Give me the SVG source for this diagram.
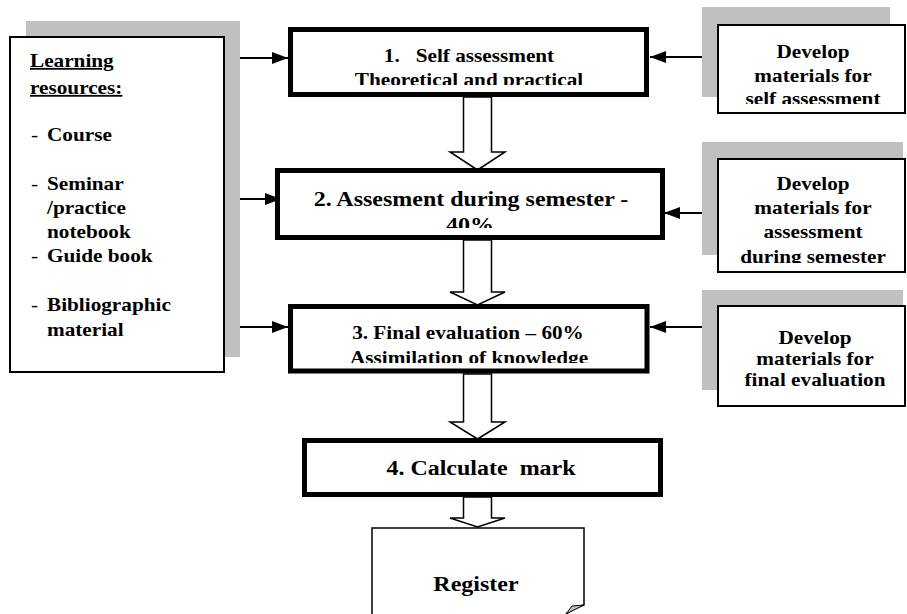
<svg xmlns="http://www.w3.org/2000/svg" width="907" height="614" viewBox="0 0 907 614">
<style>
text{font-family:'Liberation Serif',serif;font-weight:bold;font-size:18px;fill:#000}
.b{font-size:20px}
.n{font-weight:normal}
.sh{fill:#c0c0c0}
.thin{fill:#fff;stroke:#000;stroke-width:2}
.thick{fill:#fff;stroke:#000;stroke-width:5}
.ln{stroke:#000;stroke-width:2;fill:none}
.blk{fill:#fff;stroke:#000;stroke-width:1.5}
</style>
<defs>
<marker id="ah" markerWidth="16" markerHeight="12" refX="16" refY="6" orient="auto" markerUnits="userSpaceOnUse"><path d="M0,0 L16,6 L0,12 Z" fill="#000"/></marker>
<clipPath id="c1"><rect x="293" y="32" width="351" height="53"/></clipPath>
<clipPath id="c2"><rect x="280" y="173" width="380" height="55"/></clipPath>
<clipPath id="c3"><rect x="293" y="309" width="351" height="54"/></clipPath>
<clipPath id="r1"><rect x="719" y="26" width="185" height="78"/></clipPath>
<clipPath id="r2"><rect x="719" y="160" width="185" height="103"/></clipPath>
</defs>

<g id="connectors">
<line class="ln" x1="224" y1="58" x2="288" y2="58" marker-end="url(#ah)"/>
<line class="ln" x1="228" y1="199" x2="281" y2="199" marker-end="url(#ah)"/>
<line class="ln" x1="224" y1="327" x2="288" y2="327" marker-end="url(#ah)"/>
<line class="ln" x1="718" y1="57" x2="650" y2="57" marker-end="url(#ah)"/>
<line class="ln" x1="718" y1="213" x2="664" y2="213" marker-end="url(#ah)"/>
<line class="ln" x1="718" y1="327" x2="650" y2="327" marker-end="url(#ah)"/>
<polygon class="blk" points="463.5,97 491.5,97 491.5,152 505,152 477.5,170 450,152 463.5,152"/>
<polygon class="blk" points="463.5,240 491.5,240 491.5,292 505,292 477.5,305 450,292 463.5,292"/>
<polygon class="blk" points="463.5,374 491.5,374 491.5,422 505,422 477.5,439 450,422 463.5,422"/>
<polygon class="blk" points="463.5,497 491.5,497 491.5,518 505,518 477.5,527 450,518 463.5,518"/>
</g>

<g id="resources">
<rect class="sh" x="26" y="21" width="214" height="336"/>
<rect class="thin" x="10" y="37" width="214" height="335"/>
<text transform="translate(30,67) scale(1.18,1)" text-decoration="underline">Learning</text>
<text transform="translate(30,94) scale(1.18,1)" text-decoration="underline">resources:</text>
<text class="n" transform="translate(31,141) scale(1.18,1)">-</text>
<text transform="translate(47,141) scale(1.18,1)">Course</text>
<text class="n" transform="translate(31,190) scale(1.18,1)">-</text>
<text transform="translate(47,190) scale(1.18,1)">Seminar</text>
<text transform="translate(47,214) scale(1.18,1)">/practice</text>
<text transform="translate(47,238) scale(1.18,1)">notebook</text>
<text class="n" transform="translate(31,262) scale(1.18,1)">-</text>
<text transform="translate(47,262) scale(1.18,1)">Guide book</text>
<text class="n" transform="translate(31,311) scale(1.18,1)">-</text>
<text transform="translate(47,311) scale(1.18,1)">Bibliographic</text>
<text transform="translate(47,336) scale(1.18,1)">material</text>
</g>

<g id="step1">
<rect class="thick" x="290.5" y="29.5" width="356" height="65"/>
<g clip-path="url(#c1)">
<text text-anchor="middle" transform="translate(469,62) scale(1.18,1)">1.&#160;&#160; Self assessment</text>
<text text-anchor="middle" transform="translate(469,86) scale(1.18,1)">Theoretical and practical</text>
</g>
</g>

<g id="step2">
<rect class="thick" x="277.5" y="170.5" width="385" height="67"/>
<g clip-path="url(#c2)">
<text class="b" text-anchor="middle" transform="translate(471,206) scale(1.2,1)">2. Assesment during semester -</text>
<text class="b" text-anchor="middle" transform="translate(470,232) scale(1.2,1)">40%</text>
</g>
</g>

<g id="step3">
<rect class="thick" x="290.5" y="306.5" width="356.5" height="64.5"/>
<g clip-path="url(#c3)">
<text text-anchor="middle" transform="translate(468,339) scale(1.18,1)">3. Final evaluation – 60%</text>
<text text-anchor="middle" transform="translate(469,364) scale(1.18,1)">Assimilation of knowledge</text>
</g>
</g>

<g id="step4">
<rect class="thick" x="304.5" y="440.5" width="356" height="54"/>
<text class="b" text-anchor="middle" transform="translate(481,475) scale(1.2,1)">4. Calculate&#160; mark</text>
</g>

<g id="register">
<path d="M372,614 V528 H584 V605 Q575,607 566,614" fill="#fff" stroke="#000" stroke-width="1.5"/>
<path d="M584,605 L572,606 L566,614 Z" fill="#c0c0c0" stroke="#000" stroke-width="1"/>
<text class="b" text-anchor="middle" transform="translate(476,591) scale(1.2,1)">Register</text>
</g>

<g id="dev1">
<rect class="sh" x="702" y="7" width="188" height="90"/>
<rect class="thin" x="718" y="25" width="187" height="88"/>
<g clip-path="url(#r1)">
<text text-anchor="middle" transform="translate(813,58) scale(1.18,1)">Develop</text>
<text text-anchor="middle" transform="translate(813,82) scale(1.18,1)">materials for</text>
<text text-anchor="middle" transform="translate(813,105) scale(1.18,1)">self assessment</text>
</g>
</g>

<g id="dev2">
<rect class="sh" x="702" y="142" width="201" height="113"/>
<rect class="thin" x="718" y="159" width="187" height="113"/>
<g clip-path="url(#r2)">
<text text-anchor="middle" transform="translate(813,190) scale(1.18,1)">Develop</text>
<text text-anchor="middle" transform="translate(813,214) scale(1.18,1)">materials for</text>
<text text-anchor="middle" transform="translate(813,238) scale(1.18,1)">assessment</text>
<text text-anchor="middle" transform="translate(813,263) scale(1.18,1)">during semester</text>
</g>
</g>

<g id="dev3">
<rect class="sh" x="702" y="290" width="201" height="100"/>
<rect class="thin" x="718" y="306" width="187" height="100"/>
<text text-anchor="middle" transform="translate(815,344) scale(1.18,1)">Develop</text>
<text text-anchor="middle" transform="translate(815,365) scale(1.18,1)">materials for</text>
<text text-anchor="middle" transform="translate(815,386) scale(1.18,1)">final evaluation</text>
</g>
</svg>
